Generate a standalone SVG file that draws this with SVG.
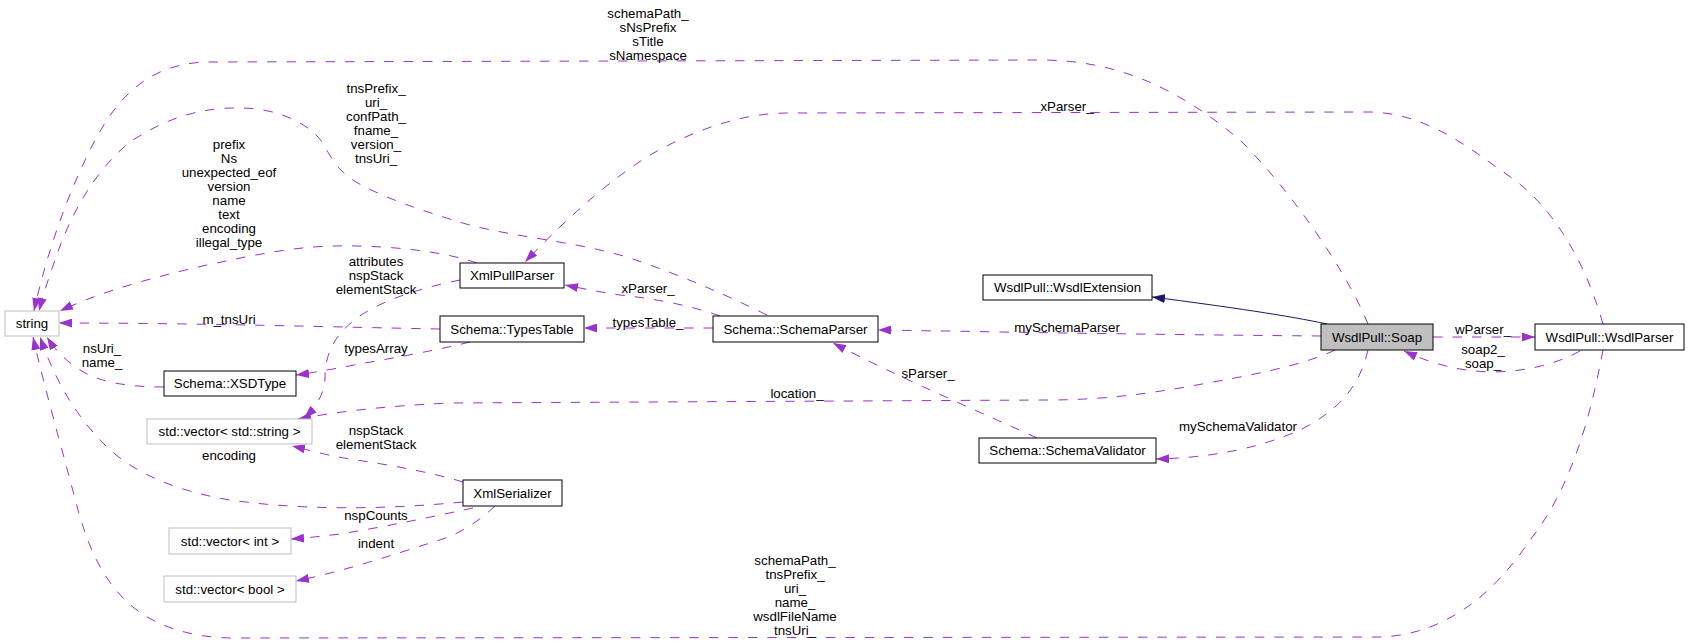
<svg xmlns="http://www.w3.org/2000/svg" width="1688" height="643" viewBox="0 0 1688 643">
<style>
text{font-family:"Liberation Sans",Arial,Helvetica,sans-serif;font-size:13.3px;fill:#000}
.node text{text-anchor:middle}
.node rect{fill:#fff;stroke:#000;stroke-width:1}
.node.ext rect{stroke:#bfbfbf}
.node.cur rect{fill:#bfbfbf}
.e{fill:none;stroke:#9a32cd;stroke-width:1;stroke-dasharray:9.5,10;marker-end:url(#ap)}
.inh{fill:none;stroke:#191970;stroke-width:1;marker-end:url(#an)}
.lbl text{text-anchor:middle}
</style>
<defs>
<marker id="ap" viewBox="0 0 13 9" refX="13" refY="4.5" markerWidth="13" markerHeight="9" markerUnits="userSpaceOnUse" orient="auto"><path d="M0,0 L13,4.5 L0,9 z" fill="#9a32cd" stroke="none"/></marker>
<marker id="an" viewBox="0 0 13 9" refX="13" refY="4.5" markerWidth="13" markerHeight="9" markerUnits="userSpaceOnUse" orient="auto"><path d="M0,0 L13,4.5 L0,9 z" fill="#191970" stroke="none"/></marker>
</defs>
<rect width="1688" height="643" fill="#fff"/>
<g id="connectors">
<path class="e" d="M1368,324 C1345,268 1290,190 1240,140 C1180,90 1120,60 1040,60 L210,62 C140,62 110,110 90,150 C65,200 45,260 34,311"/>
<path class="e" d="M767,315 C720,292 680,275 627,257 C570,240 500,236 453,220 C410,207 370,192 350,178 C330,163 328,148 318,137 C300,118 270,108 240,108 C195,107 160,122 130,142 C95,170 70,215 55,260 C48,280 43,295 39,311"/>
<path class="e" d="M477,263 C440,250 380,245 333,246 C290,247 250,256 207,265 C150,278 100,292 60,311"/>
<path class="e" d="M440,329 C330,327 200,323 59,323"/>
<path class="e" d="M720,316 C690,305 650,298 620,295 C600,292 585,289 565,285"/>
<path class="e" d="M713,328 L584,328"/>
<path class="e" d="M1321,336 C1200,335 1050,333 947,331 C920,331 900,330 878,330"/>
<path class="inh" d="M1327,324 C1290,316 1230,307 1152,297"/>
<path class="e" d="M1433,337 L1535,337"/>
<path class="e" d="M1580,351 C1560,362 1530,372 1490,372 C1455,371 1428,362 1404,351"/>
<path class="e" d="M1368,350 C1360,385 1340,410 1300,430 C1260,448 1210,458 1156,459"/>
<path class="e" d="M1037,438 C980,412 900,378 833,343"/>
<path class="e" d="M1335,350 C1310,362 1270,372 1213,382 C1160,392 1110,400 1047,400 L450,403 C380,406 330,413 298,419"/>
<path class="e" d="M460,280 C420,288 375,302 352,322 C330,340 325,360 325,378 C324,395 316,407 304,418"/>
<path class="e" d="M470,342 C430,352 380,360 333,369 C315,372 305,374 296,375"/>
<path class="e" d="M164,387 C130,387 100,383 80,370 C65,360 55,350 47,337"/>
<path class="e" d="M463,502 C380,510 300,510 230,500 C170,490 130,470 105,445 C75,415 55,380 40,337"/>
<path class="e" d="M463,482 C430,472 390,465 350,459 C320,454 305,449 292,446"/>
<path class="e" d="M473,508 C440,515 390,526 340,534 C315,537 305,538 291,539"/>
<path class="e" d="M495,506 C480,520 460,535 433,542 C390,556 340,572 296,581"/>
<path class="e" d="M1603,350 C1590,420 1570,490 1530,540 C1490,600 1440,635 1380,637 L233,638 C190,638 150,625 125,600 C100,575 88,545 78,510 C65,460 45,390 33,337"/>
<path class="e" d="M1603,324 C1585,260 1550,200 1500,170 C1460,140 1420,113 1370,112 L787,113 C740,113 690,132 650,155 C610,180 570,215 525,262"/>
<g class="lbl">
<text x="648" y="18">schemaPath_</text><text x="648" y="32">sNsPrefix</text><text x="648" y="46">sTitle</text><text x="648" y="60">sNamespace</text>
<text x="376" y="93">tnsPrefix_</text><text x="376" y="107">uri_</text><text x="376" y="121">confPath_</text><text x="376" y="135">fname_</text><text x="376" y="149">version_</text><text x="376" y="163">tnsUri_</text>
<text x="229" y="149">prefix</text><text x="229" y="163">Ns</text><text x="229" y="177">unexpected_eof</text><text x="229" y="191">version</text><text x="229" y="205">name</text><text x="229" y="219">text</text><text x="229" y="233">encoding</text><text x="229" y="247">illegal_type</text>
<text x="229" y="324">m_tnsUri</text>
<text x="648" y="293">xParser_</text>
<text x="648" y="327">typesTable_</text>
<text x="1067" y="332">mySchemaParser</text>
<text x="1483" y="334">wParser_</text>
<text x="1483" y="354">soap2_</text><text x="1483" y="368">soap_</text>
<text x="1238" y="431">mySchemaValidator</text>
<text x="928" y="378">sParser_</text>
<text x="797" y="398">location_</text>
<text x="376" y="266">attributes</text><text x="376" y="280">nspStack</text><text x="376" y="294">elementStack</text>
<text x="376" y="353">typesArray</text>
<text x="102" y="353">nsUri_</text><text x="102" y="367">name_</text>
<text x="229" y="460">encoding</text>
<text x="376" y="435">nspStack</text><text x="376" y="449">elementStack</text>
<text x="376" y="520">nspCounts</text>
<text x="376" y="548">indent</text>
<text x="795" y="565">schemaPath_</text><text x="795" y="579">tnsPrefix_</text><text x="795" y="593">uri_</text><text x="795" y="607">name_</text><text x="795" y="621">wsdlFileName</text><text x="795" y="635">tnsUri_</text>
<text x="1067" y="111">xParser_</text>
</g>
</g>
<g id="n_string" class="node ext"><rect x="5" y="311" width="54" height="25"/><text x="32" y="328">string</text></g>
<g id="n_XmlPullParser" class="node"><rect x="460" y="263" width="104" height="25"/><text x="512" y="280">XmlPullParser</text></g>
<g id="n_TypesTable" class="node"><rect x="440" y="316" width="144" height="26"/><text x="512" y="333.5">Schema::TypesTable</text></g>
<g id="n_SchemaParser" class="node"><rect x="713" y="316" width="165" height="26"/><text x="795.5" y="333.5">Schema::SchemaParser</text></g>
<g id="n_WsdlExtension" class="node"><rect x="983" y="275" width="169" height="25"/><text x="1067.5" y="292">WsdlPull::WsdlExtension</text></g>
<g id="n_Soap" class="node cur"><rect x="1321" y="324" width="112" height="26"/><text x="1377" y="341.5">WsdlPull::Soap</text></g>
<g id="n_WsdlParser" class="node"><rect x="1535" y="324" width="149" height="26"/><text x="1609.5" y="341.5">WsdlPull::WsdlParser</text></g>
<g id="n_XSDType" class="node"><rect x="164" y="371" width="132" height="25"/><text x="230" y="388">Schema::XSDType</text></g>
<g id="n_vecString" class="node ext"><rect x="147" y="419" width="165" height="25"/><text x="229.5" y="436">std::vector&lt; std::string &gt;</text></g>
<g id="n_SchemaValidator" class="node"><rect x="979" y="438" width="177" height="25"/><text x="1067.5" y="455">Schema::SchemaValidator</text></g>
<g id="n_XmlSerializer" class="node"><rect x="463" y="480" width="99" height="26"/><text x="512.5" y="497.5">XmlSerializer</text></g>
<g id="n_vecInt" class="node ext"><rect x="169" y="528" width="122" height="26"/><text x="230" y="545.5">std::vector&lt; int &gt;</text></g>
<g id="n_vecBool" class="node ext"><rect x="164" y="576" width="132" height="26"/><text x="230" y="593.5">std::vector&lt; bool &gt;</text></g>
</svg>
